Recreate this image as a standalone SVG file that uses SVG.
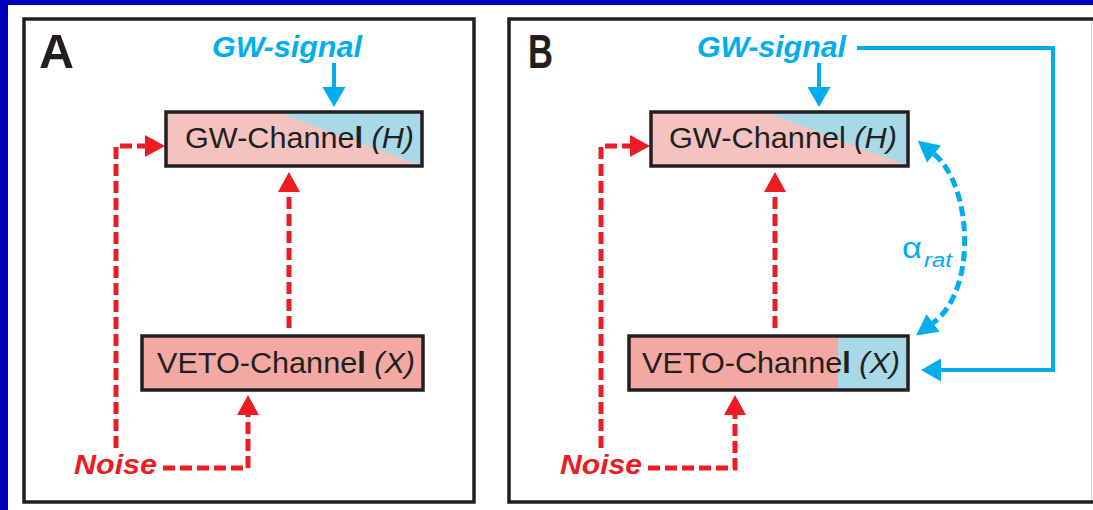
<svg xmlns="http://www.w3.org/2000/svg" width="1093" height="510" viewBox="0 0 1093 510">
<style>
.panel{fill:#ffffff;stroke:#231f20;stroke-width:3.5}
.box{stroke:#231f20;stroke-width:3.5}
.lbl{font-family:"Liberation Sans",Arial,sans-serif;font-size:30px;fill:#231f20}
.big{font-family:"Liberation Sans",Arial,sans-serif;font-size:48px;font-weight:bold;fill:#231f20}
.sig{font-family:"Liberation Sans",Arial,sans-serif;font-size:29px;font-weight:bold;font-style:italic;fill:#00aeef}
.noise{font-family:"Liberation Sans",Arial,sans-serif;font-size:28px;font-weight:bold;font-style:italic;fill:#ed1c24}
.alpha{font-family:"Liberation Sans",Arial,sans-serif;fill:#00aeef}
.red{fill:none;stroke:#ed1c24;stroke-width:5;stroke-dasharray:12 5;marker-end:url(#ra)}
.blue{fill:none;stroke:#00aeef;stroke-width:4;marker-end:url(#ba)}
.bdash{fill:none;stroke:#00aeef;stroke-width:5;stroke-dasharray:10 5;marker-start:url(#ba2);marker-end:url(#ba2)}
</style>
<defs>
<marker id="ra" markerUnits="userSpaceOnUse" markerWidth="21" markerHeight="23" refX="0" refY="11" orient="auto" overflow="visible"><path d="M0,0 L20,11 L0,22 z" fill="#ed1c24"/></marker>
<marker id="ba" markerUnits="userSpaceOnUse" markerWidth="21" markerHeight="24" refX="0" refY="11.5" orient="auto" overflow="visible"><path d="M0,0 L20,11.5 L0,23 z" fill="#00aeef"/></marker>
<marker id="ba2" markerUnits="userSpaceOnUse" markerWidth="23" markerHeight="23" refX="0" refY="11" orient="auto-start-reverse" overflow="visible"><path d="M0,0 L21,11 L0,22 z" fill="#00aeef"/></marker>
</defs>
<rect x="0" y="0" width="1093" height="510" fill="#0000be"/>
<rect x="8" y="5" width="1085" height="505" fill="#ffffff"/>
<rect class="panel" x="24" y="19" width="450" height="483"/>
<rect class="panel" x="509" y="19" width="600" height="483"/>
<line x1="1091.5" y1="21" x2="1091.5" y2="500" stroke="#cccccc" stroke-width="1"/>
<text class="big" x="39" y="68" textLength="35" lengthAdjust="spacingAndGlyphs">A</text>
<text class="big" x="528" y="68" textLength="25" lengthAdjust="spacingAndGlyphs">B</text>
<g id="connectors">
<path class="red" d="M116,448 V146 H145"/>
<path class="red" d="M289,328 V192"/>
<path class="red" d="M163,468 H248 V415"/>
<path class="blue" d="M334,63 V87"/>
<path class="red" d="M601,448 V146 H630"/>
<path class="red" d="M775,328 V192"/>
<path class="red" d="M648,468 H735 V415"/>
<path class="blue" d="M819,63 V87"/>
<path class="blue" d="M857,48 H1053 V370 H941"/>
<path class="bdash" d="M934,154 C972,185 978,290 933,323"/>
</g>
<g id="gw-signal-a"><text class="sig" x="212" y="57" textLength="150" lengthAdjust="spacingAndGlyphs">GW-signal</text></g>
<g id="gw-signal-b"><text class="sig" x="697" y="57" textLength="149" lengthAdjust="spacingAndGlyphs">GW-signal</text></g>
<g id="gw-channel-a">
<rect x="166" y="112" width="256" height="54" fill="#f5c3bf"/>
<polygon points="277,112 422,112 422,166" fill="#a9d8e6"/>
<rect class="box" x="166" y="112" width="256" height="54" fill="none"/>
<text class="lbl" x="185" y="148" textLength="229" lengthAdjust="spacingAndGlyphs">GW-Channe<tspan font-weight="bold">l</tspan> <tspan font-style="italic">(H)</tspan></text>
</g>
<g id="veto-channel-a">
<rect class="box" x="142" y="336" width="281" height="54" fill="#f3a8a3"/>
<text class="lbl" x="157" y="373" textLength="258" lengthAdjust="spacingAndGlyphs">VETO-Channe<tspan font-weight="bold">l</tspan> <tspan font-style="italic">(X)</tspan></text>
</g>
<g id="noise-a"><text class="noise" x="74" y="474" textLength="83" lengthAdjust="spacingAndGlyphs">Noise</text></g>
<g id="gw-channel-b">
<rect x="651" y="112" width="257" height="54" fill="#f5c3bf"/>
<polygon points="765,112 908,112 908,166" fill="#a9d8e6"/>
<rect class="box" x="651" y="112" width="257" height="54" fill="none"/>
<text class="lbl" x="669" y="148" textLength="228" lengthAdjust="spacingAndGlyphs">GW-Channel <tspan font-style="italic">(H)</tspan></text>
</g>
<g id="veto-channel-b">
<rect x="629" y="336" width="279" height="54" fill="#f3a8a3"/>
<rect x="838" y="336" width="70" height="54" fill="#a9d8e6"/>
<rect class="box" x="629" y="336" width="279" height="54" fill="none"/>
<text class="lbl" x="642" y="373" textLength="258" lengthAdjust="spacingAndGlyphs">VETO-Channe<tspan font-weight="bold">l</tspan> <tspan font-style="italic">(X)</tspan></text>
</g>
<g id="noise-b"><text class="noise" x="560" y="474" textLength="82" lengthAdjust="spacingAndGlyphs">Noise</text></g>
<g id="alpha-rat">
<text class="alpha" x="902" y="258" font-size="30" textLength="20" lengthAdjust="spacingAndGlyphs">α</text>
<text class="alpha" x="924" y="267" font-size="20" font-style="italic" textLength="28" lengthAdjust="spacingAndGlyphs">rat</text>
</g>
</svg>
